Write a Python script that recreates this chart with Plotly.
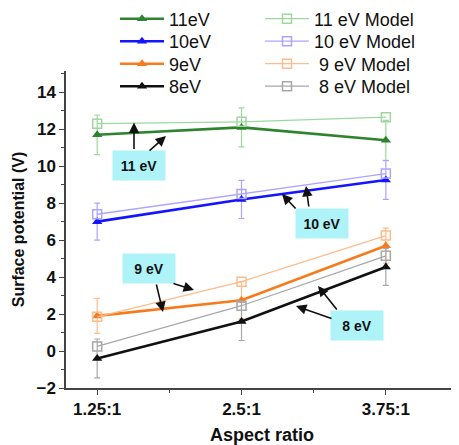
import plotly.graph_objects as go

# ---- data ----
aspect = [1.25, 2.5, 3.75]
aspect_labels = ["1.25:1", "2.5:1", "3.75:1"]

ev11 = [11.7, 12.1, 11.4]
ev10 = [7.0, 8.2, 9.25]
ev9 = [1.9, 2.75, 5.7]
ev8 = [-0.4, 1.6, 4.55]

model11 = [12.3, 12.4, 12.65]
model10 = [7.4, 8.5, 9.6]
model9 = [1.85, 3.75, 6.25]
model8 = [0.25, 2.45, 5.15]

err11 = [1.07, 1.05, 1.08]
err10 = [1.0, 1.03, 1.05]
err9 = [0.95, 1.0, 0.95]
err8 = [1.05, 1.03, 1.0]

yticks = [-2, 0, 2, 4, 6, 8, 10, 12, 14]

FONT = "Liberation Sans, Arial, sans-serif"

series = [
    ("11eV", ev11, err11, "#2e832e", "11 eV Model", model11, "#9ed89e"),
    ("10eV", ev10, err10, "#1414ff", "10 eV Model", model10, "#aca4ff"),
    ("9eV", ev9, err9, "#f77b1c", "\u00a09 eV Model", model9, "#ffbc8c"),
    ("8eV", ev8, err8, "#111111", "\u00a08 eV Model", model8, "#a8a8a8"),
]

# The page body has an 8px default margin, so the figure is sized and laid out
# in page pixels minus that offset.
OFF = 8
PW, PH = 459, 445
W, H = PW - OFF, PH - OFF
L, R, T, B = 66, 458, 71, 388   # plot area edges in page pixels
def px(x):
    return (x - L) / (R - L)
def py(y):
    return (B - y) / (B - T)

row_y = [19, 41.5, 64, 86.5]
col_x = [115, 260]

fig = go.Figure()
legends = {}
for i, (name, vals, errs, col, mname, mvals, mcol) in enumerate(series):
    la = "legend" if i == 0 else "legend%d" % (2 * i + 1)
    lb = "legend%d" % (2 * i + 2)
    fig.add_trace(go.Scatter(
        x=aspect, y=vals, name=name, mode="lines+markers", legend=la,
        line=dict(color=col, width=2.6),
        marker=dict(symbol="triangle-up", size=9, color=col),
        error_y=dict(type="data", array=errs, color=mcol, thickness=1.2, width=3),
    ))
    fig.add_trace(go.Scatter(
        x=aspect, y=mvals, name=mname, mode="lines+markers", legend=lb,
        line=dict(color=mcol, width=1.3),
        marker=dict(symbol="square-open", size=9, color=mcol, line=dict(width=1.5, color=mcol)),
    ))
    for key, cx in ((la, col_x[0]), (lb, col_x[1])):
        legends[key] = dict(
            x=px(cx), y=py(row_y[i]), xanchor="left", yanchor="middle",
            orientation="v", itemwidth=44,
            font=dict(family=FONT, size=18, color="#111111"),
            bgcolor="rgba(0,0,0,0)", borderwidth=0, itemclick=False, itemdoubleclick=False,
        )

boxes = [("11 eV", 139, 165), ("10 eV", 322, 223), ("9 eV", 148.5, 268), ("8 eV", 356.5, 325)]
for txt, cx, cy in boxes:
    fig.add_annotation(
        x=px(cx), y=py(cy), xref="paper", yref="paper", text="<b>%s</b>" % txt,
        xanchor="center", yanchor="middle",
        showarrow=False, bgcolor="#adf3f8", width=50, height=27, borderpad=1,
        font=dict(family=FONT, size=14, color="#111111"),
    )

arrows = [
    (134, 122.5, 0, 28), (166, 136, -18, 16),
    (282, 194, 15, 16), (306, 186, 3, 22),
    (194, 290, -22, -7), (163, 312, -7, -29),
    (318, 286, 20, 25), (296, 306, 37, 13),
]
for hx, hy, ax, ay in arrows:
    fig.add_annotation(
        x=px(hx), y=py(hy), xref="paper", yref="paper", text="",
        showarrow=True, ax=ax, ay=ay, arrowhead=2, arrowsize=1.3, arrowwidth=1.6,
        arrowcolor="#111111", standoff=0, startstandoff=0,
    )

axis_common = dict(
    showline=True, linecolor="#444444", linewidth=1.5, showgrid=False, zeroline=False,
    ticks="outside", ticklen=5, tickwidth=1.3, tickcolor="#444444",
    tickfont=dict(family=FONT, size=17, color="#111111", weight="bold"),
    mirror=False, automargin=False,
)

fig.update_xaxes(
    range=[0.98, 4.375], tickvals=aspect, ticktext=aspect_labels,
    minor=dict(dtick=0.625, tick0=0, ticks="outside", ticklen=3, tickcolor="#444444"),
    title=dict(text="<b>Aspect ratio</b>", font=dict(family=FONT, size=18, color="#111111"), standoff=13),
    **axis_common,
)
fig.update_yaxes(
    range=[-2, 15.15], tickvals=yticks,
    minor=dict(dtick=1, tick0=0, ticks="outside", ticklen=3, tickcolor="#444444"),
    title=dict(text="<b>Surface potential (V)</b>", font=dict(family=FONT, size=16, color="#111111"), standoff=8),
    **axis_common,
)

fig.update_layout(
    width=W, height=H,
    margin=dict(l=L - OFF, r=PW - R, t=T - OFF, b=PH - B, autoexpand=False),
    paper_bgcolor="white", plot_bgcolor="white",
    showlegend=True,
    **legends,
)

fig.write_html("out.html")
